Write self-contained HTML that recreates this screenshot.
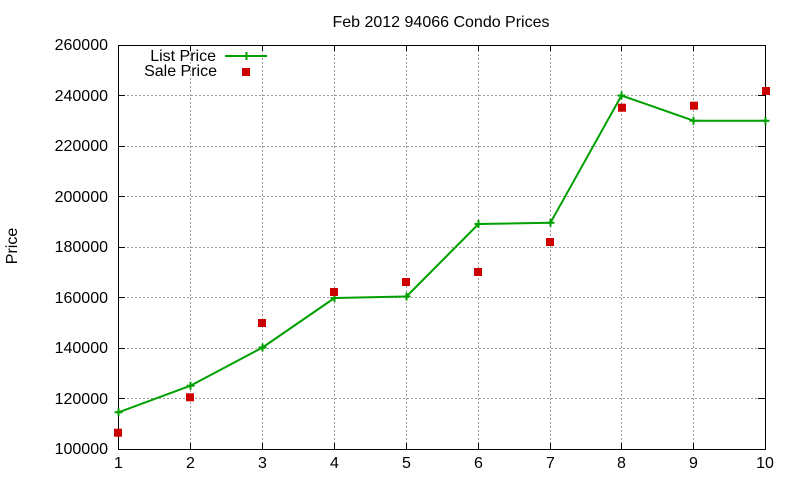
<!DOCTYPE html>
<html>
<head>
<meta charset="utf-8">
<style>
html,body{margin:0;padding:0;background:#fff;}
svg{display:block;}
text{font-family:"Liberation Sans",Arial,sans-serif;font-size:16px;fill:#000;}
</style>
</head>
<body>
<svg width="800" height="480" viewBox="0 0 800 480" xmlns="http://www.w3.org/2000/svg">
<rect width="800" height="480" fill="#fff"/>
<!-- grid -->
<g stroke="#a0a0a0" stroke-width="1" stroke-dasharray="2,2" shape-rendering="crispEdges" fill="none">
<line x1="119" y1="95.5" x2="765" y2="95.5"/>
<line x1="119" y1="146.5" x2="765" y2="146.5"/>
<line x1="119" y1="196.5" x2="765" y2="196.5"/>
<line x1="119" y1="247.5" x2="765" y2="247.5"/>
<line x1="119" y1="297.5" x2="765" y2="297.5"/>
<line x1="119" y1="348.5" x2="765" y2="348.5"/>
<line x1="119" y1="398.5" x2="765" y2="398.5"/>
<line x1="190.5" y1="46" x2="190.5" y2="449"/>
<line x1="262.5" y1="46" x2="262.5" y2="449"/>
<line x1="334.5" y1="46" x2="334.5" y2="449"/>
<line x1="406.5" y1="46" x2="406.5" y2="449"/>
<line x1="478.5" y1="46" x2="478.5" y2="449"/>
<line x1="550.5" y1="46" x2="550.5" y2="449"/>
<line x1="621.5" y1="46" x2="621.5" y2="449"/>
<line x1="693.5" y1="46" x2="693.5" y2="449"/>
</g>
<!-- ticks -->
<g stroke="#000" stroke-width="1" shape-rendering="crispEdges">
<line x1="118" y1="95.5" x2="125" y2="95.5"/><line x1="765" y1="95.5" x2="758" y2="95.5"/>
<line x1="118" y1="146.5" x2="125" y2="146.5"/><line x1="765" y1="146.5" x2="758" y2="146.5"/>
<line x1="118" y1="196.5" x2="125" y2="196.5"/><line x1="765" y1="196.5" x2="758" y2="196.5"/>
<line x1="118" y1="247.5" x2="125" y2="247.5"/><line x1="765" y1="247.5" x2="758" y2="247.5"/>
<line x1="118" y1="297.5" x2="125" y2="297.5"/><line x1="765" y1="297.5" x2="758" y2="297.5"/>
<line x1="118" y1="348.5" x2="125" y2="348.5"/><line x1="765" y1="348.5" x2="758" y2="348.5"/>
<line x1="118" y1="398.5" x2="125" y2="398.5"/><line x1="765" y1="398.5" x2="758" y2="398.5"/>
<line x1="190.5" y1="449" x2="190.5" y2="443"/><line x1="190.5" y1="45" x2="190.5" y2="51"/>
<line x1="262.5" y1="449" x2="262.5" y2="443"/><line x1="262.5" y1="45" x2="262.5" y2="51"/>
<line x1="334.5" y1="449" x2="334.5" y2="443"/><line x1="334.5" y1="45" x2="334.5" y2="51"/>
<line x1="406.5" y1="449" x2="406.5" y2="443"/><line x1="406.5" y1="45" x2="406.5" y2="51"/>
<line x1="478.5" y1="449" x2="478.5" y2="443"/><line x1="478.5" y1="45" x2="478.5" y2="51"/>
<line x1="550.5" y1="449" x2="550.5" y2="443"/><line x1="550.5" y1="45" x2="550.5" y2="51"/>
<line x1="621.5" y1="449" x2="621.5" y2="443"/><line x1="621.5" y1="45" x2="621.5" y2="51"/>
<line x1="693.5" y1="449" x2="693.5" y2="443"/><line x1="693.5" y1="45" x2="693.5" y2="51"/>
</g>
<!-- border -->
<rect x="118.5" y="45.5" width="647" height="404" fill="none" stroke="#000" stroke-width="1" shape-rendering="crispEdges"/>
<!-- y labels -->
<g text-anchor="end">
<text x="108" y="50">260000</text>
<text x="108" y="101">240000</text>
<text x="108" y="151">220000</text>
<text x="108" y="202">200000</text>
<text x="108" y="252">180000</text>
<text x="108" y="303">160000</text>
<text x="108" y="353">140000</text>
<text x="108" y="404">120000</text>
<text x="108" y="454">100000</text>
</g>
<!-- x labels -->
<g text-anchor="middle">
<text x="118.5" y="468">1</text>
<text x="190.5" y="468">2</text>
<text x="262.5" y="468">3</text>
<text x="334.5" y="468">4</text>
<text x="406.5" y="468">5</text>
<text x="478.5" y="468">6</text>
<text x="550.5" y="468">7</text>
<text x="621.5" y="468">8</text>
<text x="693.5" y="468">9</text>
<text x="765" y="468">10</text>
</g>
<!-- title -->
<text x="441" y="27" text-anchor="middle">Feb 2012 94066 Condo Prices</text>
<!-- y axis label -->
<text x="17" y="246" text-anchor="middle" transform="rotate(-90 17 246)">Price</text>
<!-- legend -->
<text x="216" y="61" text-anchor="end">List Price</text>
<text x="217" y="76" text-anchor="end">Sale Price</text>
<line x1="225" y1="56" x2="267" y2="56" stroke="#00a000" stroke-width="2"/>
<path d="M242.5 56 h8 M246.5 52 v8" stroke="#00a000" stroke-width="2" fill="none"/>
<rect x="242" y="68" width="8" height="8" fill="#cc0000"/>
<!-- list price line -->
<polyline fill="none" stroke="#00a000" stroke-width="2" stroke-linejoin="round"
points="118.5,412.3 190.5,385.7 262.5,347.5 334.5,298 406.5,296.5 478.5,224 550.5,222.7 621.5,95.5 693.5,120.7 765.5,120.7"/>
<g stroke="#00a000" stroke-width="2" fill="none">
<path d="M114.5 412.3h8M118.5 408.3v8"/>
<path d="M186.5 385.7h8M190.5 381.7v8"/>
<path d="M258.5 347.5h8M262.5 343.5v8"/>
<path d="M330.5 298h8M334.5 294v8"/>
<path d="M402.5 296.5h8M406.5 292.5v8"/>
<path d="M474.5 224h8M478.5 220v8"/>
<path d="M546.5 222.7h8M550.5 218.7v8"/>
<path d="M617.5 95.5h8M621.5 91.5v8"/>
<path d="M689.5 120.7h8M693.5 116.7v8"/>
<path d="M761.5 120.7h8M765.5 116.7v8"/>
</g>
<!-- sale price points -->
<g fill="#cc0000">
<rect x="114" y="428.7" width="8" height="8"/>
<rect x="186" y="393.3" width="8" height="8"/>
<rect x="258" y="319" width="8" height="8"/>
<rect x="330" y="288" width="8" height="8"/>
<rect x="402" y="278" width="8" height="8"/>
<rect x="474" y="268" width="8" height="8"/>
<rect x="546" y="238" width="8" height="8"/>
<rect x="618" y="103.7" width="8" height="8"/>
<rect x="690" y="101.7" width="8" height="8"/>
<rect x="762" y="87" width="8" height="8"/>
</g>
</svg>
</body>
</html>
